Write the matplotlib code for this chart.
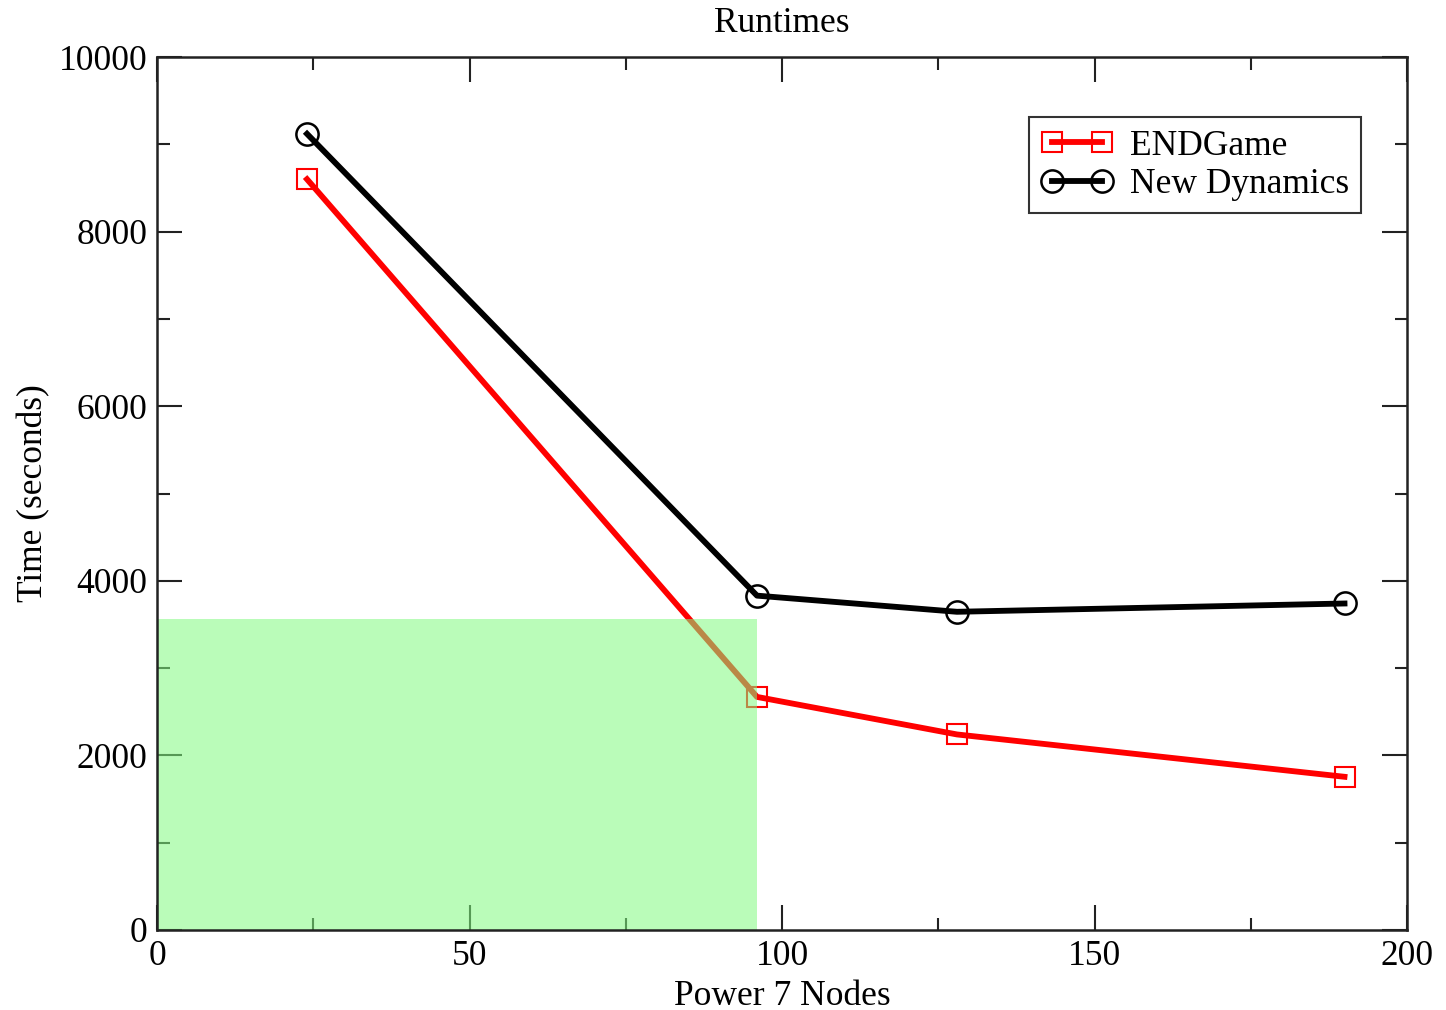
import matplotlib
matplotlib.use("Agg")
import matplotlib.pyplot as plt
from matplotlib.ticker import MultipleLocator
from matplotlib.patches import Rectangle

nodes = [24, 96, 128, 190]
endgame = [8600, 2670, 2240, 1755]
new_dynamics = [9120, 3830, 3645, 3740]
highlight_x = 96
highlight_y = 3560

plt.rcParams['font.family'] = ['Liberation Serif', 'DejaVu Serif']

fig = plt.figure(figsize=(14.46, 10.10), dpi=100)
ax = fig.add_axes([157/1446, 80/1010, 1250/1446, 873/1010])

ax.plot(nodes, endgame, color='red', lw=4.2, marker='s', ms=15,
        mfc='none', mec='red', mew=1.5, label='ENDGame', zorder=3)
ax.plot(nodes, new_dynamics, color='black', lw=4.2, marker='o', ms=16,
        mfc='none', mec='black', mew=1.8, label='New Dynamics', zorder=3)

ax.add_patch(Rectangle((0, 0), highlight_x, highlight_y,
                       facecolor=(130/255, 250/255, 128/255), alpha=0.55,
                       edgecolor='none', zorder=4))

ax.set_xlim(0, 200)
ax.set_ylim(0, 10000)
ax.xaxis.set_major_locator(MultipleLocator(50))
ax.xaxis.set_minor_locator(MultipleLocator(25))
ax.yaxis.set_major_locator(MultipleLocator(2000))
ax.yaxis.set_minor_locator(MultipleLocator(1000))
ax.tick_params(which='both', direction='in', top=True, right=True,
               width=1.5, labelsize=25.5, color='#222222')
ax.tick_params(which='major', length=18, pad=7)
ax.tick_params(which='minor', length=9)
for s in ax.spines.values():
    s.set_linewidth(1.8)
    s.set_color('#222222')
    s.set_zorder(5)

ax.set_xlabel('Power 7 Nodes', fontsize=25.5, labelpad=5)
ax.set_ylabel('Time (seconds)', fontsize=25.5, labelpad=6)
ax.set_title('Runtimes', fontsize=25.5, pad=18)

leg = ax.legend(loc='upper right', bbox_to_anchor=(0.9635, 0.931), fontsize=25.5,
                numpoints=2, frameon=True, fancybox=False, edgecolor='black',
                handlelength=2.0, borderpad=0.35, labelspacing=0.15,
                handletextpad=0.5, borderaxespad=0)
leg.get_frame().set_linewidth(1.5)
leg.set_zorder(6)

fig.savefig('out.png', dpi=100)
